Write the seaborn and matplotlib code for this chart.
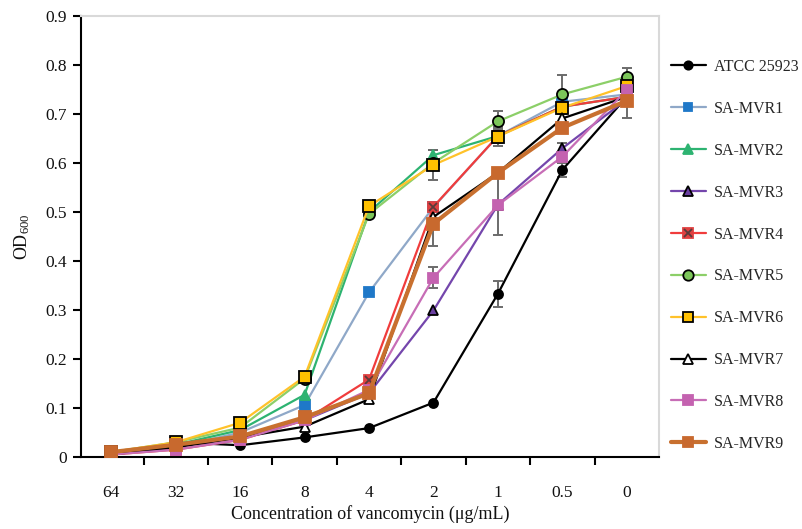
import numpy as np
import pandas as pd
import matplotlib
matplotlib.use("Agg")
import matplotlib.pyplot as plt
import seaborn as sns
from matplotlib.lines import Line2D
from matplotlib.legend_handler import HandlerTuple

# ---------------- data ----------------
concentrations = ["64", "32", "16", "8", "4", "2", "1", "0.5", "0"]
series_names = ["ATCC 25923", "SA-MVR1", "SA-MVR2", "SA-MVR3", "SA-MVR4",
                "SA-MVR5", "SA-MVR6", "SA-MVR7", "SA-MVR8", "SA-MVR9"]

atcc = [0.005, 0.030, 0.024, 0.040, 0.059, 0.111, 0.333, 0.586, 0.735]
mvr1 = [0.010, 0.020, 0.050, 0.106, 0.336, 0.510, 0.655, 0.725, 0.740]
mvr2 = [0.010, 0.025, 0.055, 0.127, 0.500, 0.616, 0.655, 0.715, 0.735]
mvr3 = [0.005, 0.020, 0.040, 0.075, 0.130, 0.299, 0.515, 0.630, 0.730]
mvr4 = [0.005, 0.015, 0.035, 0.075, 0.158, 0.511, 0.655, 0.715, 0.735]
mvr5 = [0.010, 0.030, 0.060, 0.160, 0.496, 0.600, 0.685, 0.740, 0.776]
mvr6 = [0.010, 0.030, 0.070, 0.164, 0.512, 0.596, 0.654, 0.713, 0.757]
mvr7 = [0.005, 0.020, 0.040, 0.062, 0.118, 0.490, 0.580, 0.691, 0.735]
mvr8 = [0.005, 0.015, 0.035, 0.075, 0.137, 0.366, 0.514, 0.613, 0.749]
mvr9 = [0.010, 0.025, 0.042, 0.081, 0.130, 0.476, 0.580, 0.672, 0.727]

atcc_err = [0, 0, 0, 0, 0, 0, 0.027, 0.015, 0.010]
mvr1_err = [0, 0, 0, 0, 0, 0, 0, 0, 0]
mvr2_err = [0, 0, 0, 0, 0, 0.010, 0, 0, 0]
mvr3_err = [0, 0, 0, 0, 0, 0, 0, 0.010, 0]
mvr4_err = [0, 0, 0, 0, 0, 0, 0.015, 0, 0]
mvr5_err = [0, 0, 0, 0, 0, 0, 0.022, 0.040, 0.018]
mvr6_err = [0, 0, 0, 0, 0, 0.030, 0.020, 0, 0]
mvr7_err = [0, 0, 0, 0, 0, 0, 0, 0, 0]
mvr8_err = [0, 0, 0, 0, 0, 0.021, 0.060, 0, 0]
mvr9_err = [0, 0, 0, 0, 0, 0.045, 0, 0, 0.035]

values = [atcc, mvr1, mvr2, mvr3, mvr4, mvr5, mvr6, mvr7, mvr8, mvr9]
errors = [atcc_err, mvr1_err, mvr2_err, mvr3_err, mvr4_err,
          mvr5_err, mvr6_err, mvr7_err, mvr8_err, mvr9_err]

# ---------------- styles ----------------
styles = {
    "ATCC 25923": dict(lc="#000000", m="o", mfc="#000000", mec="#000000", lw=1.6, ms=6.5),
    "SA-MVR1": dict(lc="#8fa8c8", m="s", mfc="#1f78c8", mec="#1f78c8", lw=1.6, ms=6.5),
    "SA-MVR2": dict(lc="#2db371", m="^", mfc="#2db371", mec="#2db371", lw=1.6, ms=7),
    "SA-MVR3": dict(lc="#7446ac", m="^", mfc="#6a3fa0", mec="#000000", lw=1.6, ms=7.5),
    "SA-MVR4": dict(lc="#f03c3c", m="s", mfc="#e04040", mec="#e04040", lw=1.6, ms=7),
    "SA-MVR5": dict(lc="#8ccf68", m="o", mfc="#7cc65a", mec="#000000", lw=1.6, ms=8),
    "SA-MVR6": dict(lc="#ffc22a", m="s", mfc="#ffc000", mec="#000000", lw=1.6, ms=8),
    "SA-MVR7": dict(lc="#000000", m="^", mfc="#ffffff", mec="#000000", lw=1.6, ms=7.5),
    "SA-MVR8": dict(lc="#c76db6", m="s", mfc="#c462b0", mec="#c462b0", lw=1.6, ms=7),
    "SA-MVR9": dict(lc="#c8702f", m="s", mfc="#c8692e", mec="#c8692e", lw=3.0, ms=8),
}

rows = []
for name, vals, errs in zip(series_names, values, errors):
    for i, (c, v, e) in enumerate(zip(concentrations, vals, errs)):
        rows.append(dict(series=name, pos=i, conc=c, od=v, err=e))
df = pd.DataFrame(rows)

sns.set_theme(style="white")
plt.rcParams["font.family"] = ["Liberation Serif", "DejaVu Serif"]
plt.rcParams["mathtext.fontset"] = "custom"
plt.rcParams["mathtext.rm"] = "Liberation Serif"
plt.rcParams["mathtext.it"] = "Liberation Serif:italic"

fig = plt.figure(figsize=(8.02, 5.29), dpi=100)
ax = fig.add_axes([81 / 802, 72 / 529, 578 / 802, 441 / 529])

# error bars first
for name in series_names:
    sub = df[df.series == name]
    sub = sub[sub.err > 0]
    if len(sub):
        ax.errorbar(sub.pos, sub.od, yerr=sub.err, fmt="none", ecolor="#6b6b6b",
                    elinewidth=1.4, capsize=3.5, capthick=1.4, zorder=2)

order_z = {n: 3 + i * 0.1 for i, n in enumerate(series_names)}
handles = []
for name in series_names:
    st = styles[name]
    sub = df[df.series == name]
    sns.lineplot(data=sub, x="pos", y="od", ax=ax, color=st["lc"], linewidth=st["lw"],
                 marker=st["m"], markersize=st["ms"], markerfacecolor=st["mfc"],
                 markeredgecolor=st["mec"], markeredgewidth=1.3, zorder=order_z[name],
                 legend=False, errorbar=None)
    h = Line2D([], [], color=st["lc"], lw=st["lw"], marker=st["m"], markersize=st["ms"] - 0.5,
               markerfacecolor=st["mfc"], markeredgecolor=st["mec"], markeredgewidth=1.3)
    if name == "SA-MVR4":
        ax.plot(sub.pos, sub.od, linestyle="none", marker="x", markersize=6,
                color="#5a3a3a", markeredgewidth=1.3, zorder=order_z[name] + 0.05)
        hx = Line2D([], [], linestyle="none", marker="x", markersize=5.5, color="#5a3a3a",
                    markeredgewidth=1.3)
        h = (h, hx)
    handles.append(h)

ax.set_xlim(-0.47, 8.5)
ax.set_ylim(0, 0.9)
ax.set_xticks(range(len(concentrations)))
ax.set_xticklabels(concentrations)
ax.set_xticks(np.arange(0.5, 8.0, 1.0), minor=True)
ax.tick_params(axis="x", which="major", length=0, pad=20, labelsize=12.5, colors="#111111")
ax.tick_params(axis="x", which="minor", length=6, width=1.5, direction="out", color="#000000",
               bottom=True)
yt = np.round(np.arange(0, 0.91, 0.1), 1)
ax.set_yticks(yt)
ax.set_yticklabels(["0"] + [f"{v:.1f}" for v in yt[1:]])
ax.tick_params(axis="y", which="major", length=6, width=1.5, direction="out", color="#000000",
               left=True, labelsize=12.5, pad=4, labelcolor="#111111")

for s in ["left", "bottom"]:
    ax.spines[s].set_color("#000000")
    ax.spines[s].set_linewidth(1.5)
for s in ["top", "right"]:
    ax.spines[s].set_color("#d9d9d9")
    ax.spines[s].set_linewidth(1.5)

ax.set_xlabel("Concentration of vancomycin (μg/mL)", fontsize=13, labelpad=3, color="#111111")
ax.set_ylabel("OD$_{600}$", fontsize=13, labelpad=10, color="#111111")

leg = ax.legend(handles, series_names, loc="center left", bbox_to_anchor=(1.012, 0.457),
                frameon=False, fontsize=11.5, labelspacing=1.62, handlelength=2.2,
                handletextpad=0.5, borderaxespad=0, borderpad=0.3,
                handler_map={tuple: HandlerTuple(ndivide=1)})

fig.savefig("out.png", dpi=100)
